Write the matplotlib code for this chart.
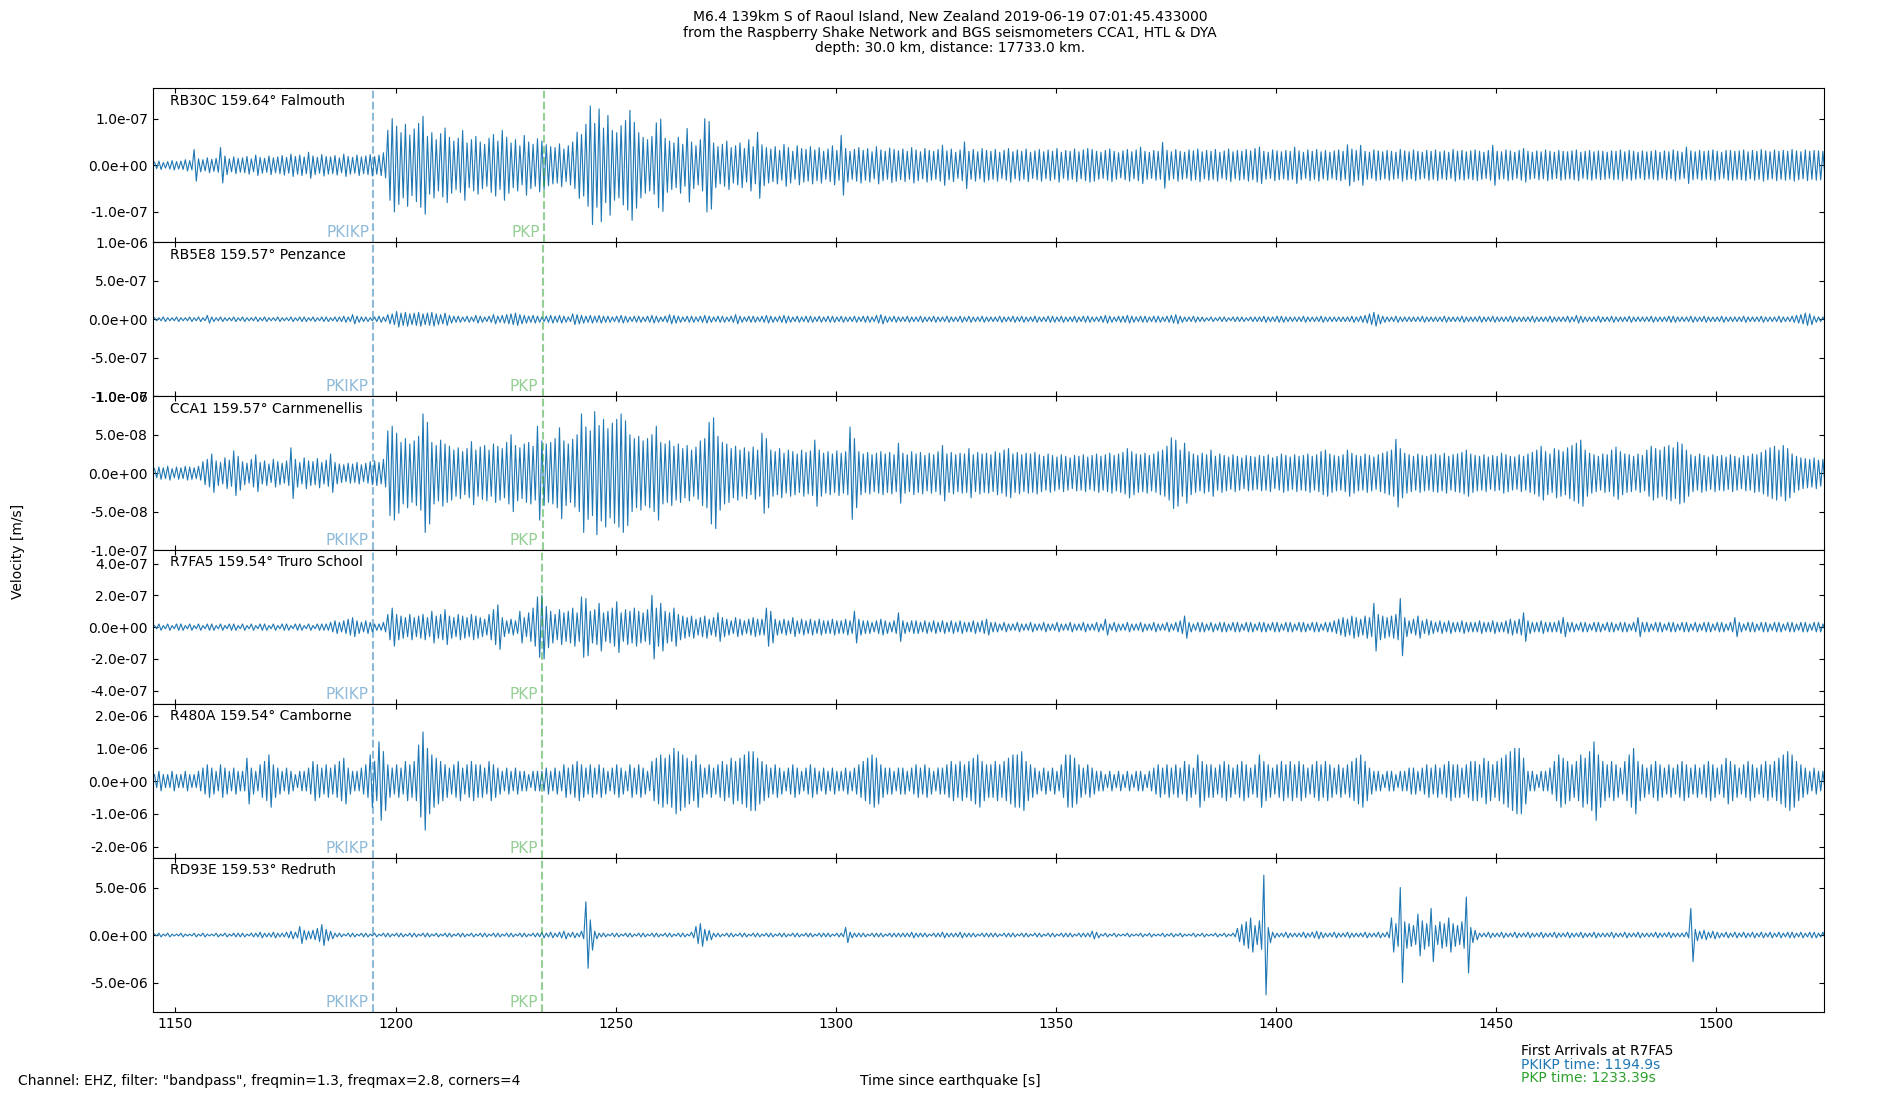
import numpy as np
import matplotlib
matplotlib.use('Agg')
import matplotlib.pyplot as plt
from matplotlib.ticker import FormatStrFormatter

# peak amplitude per second, seconds 1145..1524
t0 = 1145

rb30c = [  # nm/s
    7, 9, 6, 8, 10, 8, 9, 12, 10, 34,
    14, 12, 16, 13, 15, 38, 20, 14, 18, 15,
    16, 19, 14, 22, 17, 15, 20, 16, 18, 21,
    17, 24, 19, 22, 18, 28, 20, 17, 23, 19,
    18, 21, 16, 24, 19, 17, 22, 18, 20, 23,
    19, 22, 27, 75, 100, 84, 70, 88, 65, 78,
    90, 105, 62, 70, 55, 68, 80, 60, 52, 58,
    75, 48, 55, 62, 50, 45, 58, 66, 52, 75,
    60, 48, 55, 42, 64, 50, 45, 57, 52, 44,
    40, 38, 46, 35, 42, 50, 71, 66, 88, 127,
    90, 121, 80, 107, 75, 70, 85, 96, 118, 92,
    70, 60, 55, 62, 91, 99, 58, 52, 48, 60,
    45, 79, 50, 42, 55, 100, 94, 48, 40, 45,
    52, 38, 42, 48, 36, 55, 40, 71, 44, 38,
    35, 40, 32, 45, 38, 30, 42, 36, 34, 40,
    33, 38, 30, 35, 42, 32, 64, 36, 30, 34,
    38, 32, 36, 29, 40, 33, 30, 37, 34, 31,
    35, 30, 38, 33, 29, 36, 32, 30, 34, 43,
    31, 35, 28, 33, 50, 30, 34, 29, 36, 32,
    30, 34, 28, 32, 36, 29, 33, 30, 35, 28,
    31, 34, 29, 33, 30, 36, 28, 32, 30, 35,
    29, 33, 36, 34, 30, 28, 32, 35, 30, 27,
    31, 34, 29, 33, 39, 30, 28, 32, 30, 49,
    32, 29, 34, 30, 28, 33, 31, 35, 29, 32,
    30, 34, 28, 31, 35, 29, 32, 30, 34, 31,
    36, 39, 30, 28, 33, 31, 29, 32, 30, 39,
    31, 28, 33, 30, 34, 29, 32, 28, 31, 33,
    30, 44, 35, 32, 43, 30, 28, 33, 31, 29,
    32, 30, 28, 34, 31, 29, 33, 30, 28, 32,
    30, 33, 29, 31, 28, 34, 30, 32, 29, 31,
    33, 30, 28, 32, 43, 30, 29, 33, 31, 28,
    32, 36, 30, 28, 31, 29, 33, 30, 28, 32,
    30, 29, 31, 33, 28, 30, 32, 29, 31, 30,
    28, 31, 30, 33, 29, 32, 30, 28, 31, 29,
    30, 32, 28, 31, 29, 33, 30, 28, 39, 31,
    29, 32, 30, 31, 33, 30, 28, 32, 32, 30,
    31, 33, 29, 32, 30, 34, 31, 29, 33, 30,
    32, 30, 34, 31, 29, 33, 30, 32, 31, 30,
]

rb5e8 = [  # 1e-8 m/s
    2, 2, 3, 2, 2, 3, 2, 2, 3, 2,
    3, 2, 5, 3, 2, 3, 2, 2, 3, 2,
    3, 2, 2, 3, 2, 3, 2, 2, 3, 2,
    2, 3, 2, 3, 3, 2, 3, 2, 3, 3,
    2, 3, 3, 4, 3, 6, 4, 3, 3, 2,
    3, 4, 3, 6, 7, 10, 8, 9, 7, 8,
    9, 7, 8, 9, 7, 6, 8, 5, 4, 4,
    3, 4, 3, 5, 4, 3, 4, 6, 4, 5,
    6, 7, 8, 6, 5, 4, 5, 4, 3, 4,
    5, 4, 5, 4, 3, 7, 6, 5, 4, 5,
    4, 5, 4, 4, 3, 4, 5, 4, 3, 4,
    4, 3, 4, 5, 4, 3, 4, 6, 5, 4,
    3, 4, 4, 3, 4, 5, 4, 3, 4, 4,
    3, 4, 6, 4, 3, 4, 4, 3, 4, 5,
    4, 3, 4, 5, 4, 3, 4, 3, 4, 4,
    3, 4, 3, 4, 4, 3, 4, 3, 3, 4,
    3, 4, 4, 3, 5, 6, 4, 3, 4, 3,
    3, 4, 3, 3, 4, 3, 3, 4, 3, 3,
    4, 3, 3, 4, 3, 4, 3, 3, 4, 3,
    3, 3, 4, 3, 3, 4, 3, 4, 3, 3,
    4, 3, 3, 4, 4, 3, 4, 3, 3, 4,
    3, 4, 4, 3, 3, 4, 5, 4, 3, 4,
    4, 5, 4, 3, 4, 4, 3, 4, 4, 3,
    4, 5, 6, 4, 3, 3, 4, 3, 3, 2,
    3, 2, 3, 3, 2, 3, 3, 3, 2, 3,
    3, 3, 4, 3, 3, 4, 4, 3, 3, 3,
    3, 4, 3, 3, 3, 4, 3, 3, 3, 3,
    3, 3, 4, 3, 4, 5, 7, 9, 6, 4,
    3, 3, 4, 3, 3, 3, 3, 3, 4, 3,
    3, 3, 3, 4, 3, 3, 3, 4, 3, 3,
    3, 4, 3, 3, 4, 3, 3, 3, 4, 3,
    3, 3, 3, 4, 3, 3, 3, 4, 3, 3,
    3, 4, 3, 5, 4, 3, 3, 3, 4, 3,
    3, 4, 3, 3, 3, 4, 3, 3, 3, 3,
    4, 3, 3, 3, 4, 4, 3, 3, 3, 4,
    3, 3, 4, 3, 3, 3, 4, 3, 3, 3,
    3, 4, 3, 3, 3, 4, 3, 3, 3, 4,
    3, 3, 4, 5, 6, 8, 7, 4, 3, 3,
]

cca1 = [  # nm/s
    6, 8, 7, 9, 6, 8, 7, 9, 8, 7,
    9, 15, 18, 25, 16, 14, 20, 17, 29, 22,
    15, 13, 18, 24, 14, 16, 12, 18, 15, 13,
    16, 33, 18, 14, 20, 16, 15, 19, 14, 17,
    25, 14, 12, 11, 13, 12, 14, 11, 13, 15,
    16, 14, 18, 55, 61, 52, 40, 45, 38, 42,
    48, 77, 66, 40, 36, 43, 38, 35, 30, 33,
    28, 32, 41, 30, 34, 36, 30, 38, 35, 32,
    40, 50, 36, 33, 38, 40, 35, 61, 42, 38,
    40, 45, 59, 42, 38, 44, 50, 77, 60, 55,
    80, 62, 70, 58, 65, 70, 77, 68, 50, 45,
    48, 42, 45, 50, 61, 40, 38, 42, 35, 38,
    32, 36, 30, 34, 42, 45, 66, 72, 48, 40,
    38, 32, 35, 30, 33, 28, 34, 30, 52, 45,
    30, 28, 32, 26, 30, 28, 25, 30, 27, 29,
    43, 30, 26, 28, 25, 29, 26, 28, 60, 45,
    28, 25, 27, 24, 26, 28, 25, 27, 24, 39,
    26, 24, 28, 25, 27, 23, 26, 24, 28, 36,
    25, 27, 24, 26, 25, 32, 24, 27, 25, 26,
    24, 28, 26, 30, 32, 25, 27, 24, 26, 25,
    27, 24, 22, 25, 23, 21, 24, 22, 20, 23,
    22, 24, 21, 23, 25, 22, 24, 26, 23, 25,
    27, 32, 28, 25, 24, 26, 23, 25, 28, 30,
    35, 46, 43, 30, 39, 28, 25, 23, 26, 24,
    30, 22, 25, 23, 21, 24, 22, 20, 23, 22,
    21, 23, 22, 24, 20, 22, 25, 23, 21, 24,
    22, 23, 25, 22, 24, 28, 30, 25, 23, 22,
    24, 30, 26, 23, 22, 25, 23, 21, 24, 26,
    28, 30, 44, 32, 26, 24, 22, 25, 23, 22,
    24, 25, 23, 26, 22, 24, 25, 27, 30, 25,
    23, 22, 24, 21, 23, 22, 26, 24, 22, 21,
    24, 22, 25, 27, 30, 35, 28, 25, 32, 30,
    28, 33, 36, 39, 43, 30, 26, 24, 22, 25,
    24, 30, 34, 28, 25, 24, 22, 25, 23, 30,
    35, 32, 30, 34, 36, 33, 40, 38, 30, 24,
    22, 25, 23, 21, 24, 22, 23, 21, 24, 22,
    20, 23, 22, 25, 24, 27, 30, 33, 35, 30,
    36, 32, 25, 22, 20, 19, 18, 20, 17, 18,
]

r7fa5 = [  # 1e-8 m/s
    1, 2, 1, 2, 1, 2, 2, 1, 2, 1,
    2, 1, 2, 2, 1, 2, 1, 2, 2, 1,
    2, 1, 2, 1, 2, 2, 1, 2, 1, 2,
    2, 1, 2, 2, 1, 2, 1, 2, 2, 2,
    3, 4, 3, 4, 5, 6, 4, 3, 4, 3,
    2, 2, 3, 8, 12, 8, 7, 6, 8, 6,
    7, 8, 6, 10, 7, 8, 11, 7, 6, 8,
    7, 6, 8, 7, 6, 5, 8, 11, 14, 6,
    4, 5, 4, 10, 6, 9, 12, 19, 20, 13,
    10, 8, 11, 9, 10, 12, 9, 19, 18, 10,
    11, 15, 9, 10, 12, 16, 9, 11, 10, 12,
    10, 9, 11, 20, 12, 15, 10, 9, 12, 8,
    7, 6, 7, 5, 6, 7, 5, 6, 9, 6,
    5, 4, 6, 5, 4, 5, 6, 5, 5, 12,
    10, 5, 4, 5, 4, 6, 4, 5, 4, 5,
    4, 5, 4, 4, 5, 4, 4, 5, 4, 10,
    5, 4, 4, 3, 4, 5, 4, 3, 4, 9,
    4, 3, 4, 4, 3, 4, 3, 4, 3, 4,
    3, 4, 3, 4, 3, 3, 4, 3, 4, 5,
    3, 3, 2, 3, 2, 2, 3, 2, 2, 3,
    2, 2, 3, 2, 2, 3, 2, 2, 3, 2,
    2, 3, 2, 2, 3, 2, 5, 2, 3, 2,
    2, 3, 2, 2, 3, 2, 2, 3, 2, 2,
    3, 2, 3, 4, 7, 3, 2, 3, 3, 2,
    3, 2, 3, 3, 2, 3, 3, 2, 3, 3,
    2, 3, 3, 2, 3, 3, 2, 3, 3, 2,
    3, 3, 2, 3, 3, 2, 3, 3, 4, 5,
    6, 5, 7, 6, 5, 7, 6, 15, 8, 7,
    6, 7, 8, 18, 6, 4, 5, 7, 4, 5,
    4, 3, 4, 3, 4, 3, 3, 4, 3, 3,
    3, 4, 3, 3, 4, 3, 3, 4, 5, 4,
    5, 9, 4, 3, 3, 4, 3, 3, 3, 4,
    6, 3, 3, 2, 3, 3, 2, 3, 3, 2,
    3, 3, 2, 3, 3, 2, 3, 6, 3, 3,
    2, 3, 3, 2, 3, 3, 2, 3, 3, 2,
    3, 2, 3, 3, 2, 3, 3, 2, 3, 6,
    3, 2, 3, 3, 2, 3, 3, 2, 3, 3,
    2, 3, 3, 2, 3, 3, 2, 3, 3, 2,
]

r480a = [  # 1e-7 m/s
    2, 3, 2, 2, 3, 2, 2, 3, 2, 2,
    3, 4, 5, 4, 3, 5, 4, 3, 4, 3,
    3, 7, 4, 3, 5, 6, 8, 5, 4, 3,
    4, 3, 2, 3, 3, 4, 6, 5, 4, 5,
    4, 5, 6, 7, 4, 3, 3, 4, 5, 8,
    6, 12, 9, 5, 4, 5, 4, 6, 5, 6,
    11, 15, 10, 8, 7, 6, 5, 4, 5, 6,
    4, 5, 6, 5, 5, 4, 6, 5, 4, 3,
    4, 3, 4, 3, 3, 2, 3, 3, 3, 4,
    3, 4, 3, 5, 4, 5, 6, 5, 4, 5,
    4, 5, 4, 3, 4, 5, 4, 3, 5, 4,
    5, 4, 3, 6, 7, 8, 7, 8, 10, 9,
    8, 7, 6, 8, 5, 4, 5, 4, 5, 6,
    5, 7, 6, 7, 8, 9, 9, 7, 6, 5,
    4, 5, 4, 3, 4, 5, 4, 3, 4, 5,
    4, 3, 4, 3, 4, 3, 3, 4, 3, 4,
    5, 6, 7, 8, 7, 5, 4, 4, 3, 4,
    4, 3, 4, 5, 4, 5, 4, 3, 4, 4,
    5, 6, 5, 6, 5, 6, 7, 8, 6, 5,
    5, 6, 5, 6, 7, 8, 8, 9, 6, 5,
    4, 3, 4, 3, 4, 3, 5, 8, 8, 7,
    5, 4, 5, 4, 3, 3, 2, 3, 2, 3,
    2, 3, 2, 3, 3, 2, 3, 4, 5, 4,
    5, 4, 5, 4, 6, 5, 4, 8, 6, 5,
    5, 4, 5, 6, 5, 4, 5, 6, 5, 4,
    5, 8, 6, 5, 4, 5, 6, 5, 6, 5,
    6, 5, 4, 5, 6, 5, 6, 5, 4, 5,
    4, 5, 6, 7, 8, 6, 4, 3, 3, 2,
    3, 3, 2, 3, 3, 4, 4, 3, 4, 5,
    4, 5, 4, 5, 6, 5, 5, 4, 5, 6,
    6, 5, 7, 6, 5, 6, 7, 8, 9, 10,
    10, 7, 3, 3, 2, 3, 3, 4, 6, 8,
    7, 6, 5, 6, 8, 7, 9, 12, 8, 6,
    5, 6, 5, 4, 6, 8, 10, 6, 5, 4,
    5, 6, 5, 4, 5, 4, 5, 6, 5, 4,
    5, 4, 5, 6, 5, 4, 5, 7, 6, 5,
    4, 5, 6, 5, 4, 5, 6, 5, 6, 7,
    8, 9, 8, 6, 5, 4, 3, 4, 3, 3,
]

rd93e = [  # 1e-7 m/s
    1, 2, 1, 2, 1, 1, 2, 1, 1, 2,
    1, 2, 1, 1, 2, 1, 2, 1, 2, 2,
    2, 1, 2, 2, 3, 2, 2, 3, 2, 2,
    3, 4, 3, 9, 5, 4, 5, 7, 11, 6,
    4, 2, 2, 1, 2, 2, 1, 2, 2, 1,
    2, 1, 2, 2, 1, 2, 2, 1, 2, 2,
    1, 2, 2, 1, 2, 1, 2, 2, 1, 2,
    2, 1, 2, 1, 2, 2, 1, 2, 2, 1,
    2, 2, 1, 2, 2, 1, 2, 2, 3, 2,
    3, 2, 3, 4, 2, 3, 2, 4, 35, 16,
    4, 2, 2, 1, 2, 2, 1, 2, 2, 1,
    2, 2, 1, 2, 2, 1, 2, 2, 1, 2,
    2, 1, 3, 9, 12, 6, 5, 2, 2, 1,
    2, 2, 1, 2, 2, 1, 2, 2, 1, 2,
    2, 1, 2, 2, 1, 2, 2, 1, 2, 2,
    1, 2, 2, 2, 1, 2, 2, 8, 3, 2,
    2, 2, 1, 2, 2, 2, 1, 2, 2, 2,
    2, 2, 3, 2, 2, 2, 1, 2, 2, 3,
    2, 2, 2, 3, 2, 2, 2, 1, 2, 2,
    2, 2, 1, 2, 2, 2, 1, 2, 2, 1,
    2, 2, 1, 2, 2, 1, 2, 2, 2, 1,
    2, 2, 2, 4, 3, 1, 2, 1, 2, 1,
    1, 2, 1, 1, 2, 1, 2, 1, 1, 2,
    1, 2, 1, 2, 1, 1, 2, 1, 2, 1,
    1, 2, 1, 2, 1, 2, 7, 11, 14, 18,
    10, 15, 63, 8, 3, 2, 2, 3, 2, 2,
    2, 3, 2, 3, 4, 3, 2, 2, 3, 2,
    2, 3, 2, 2, 2, 3, 2, 2, 3, 2,
    3, 18, 12, 50, 14, 12, 10, 22, 15, 12,
    28, 10, 14, 12, 18, 12, 10, 14, 40, 8,
    5, 2, 2, 3, 2, 2, 3, 2, 2, 3,
    2, 2, 3, 2, 2, 3, 2, 2, 3, 2,
    2, 3, 2, 2, 3, 2, 2, 3, 2, 2,
    2, 3, 2, 2, 3, 2, 2, 3, 2, 2,
    2, 3, 2, 2, 3, 2, 2, 2, 3, 28,
    6, 4, 5, 3, 4, 3, 2, 3, 2, 3,
    2, 3, 2, 3, 2, 3, 2, 3, 2, 3,
    2, 3, 3, 2, 3, 2, 3, 3, 2, 3,
]

traces = [rb30c, rb5e8, cca1, r7fa5, r480a, rd93e]
units = [1e-9, 1e-8, 1e-9, 1e-8, 1e-7, 1e-7]
stations = ['RB30C', 'RB5E8', 'CCA1', 'R7FA5', 'R480A', 'RD93E']
dists = [159.64, 159.57, 159.57, 159.54, 159.54, 159.53]
places = ['Falmouth', 'Penzance', 'Carnmenellis', 'Truro School', 'Camborne', 'Redruth']
pkikp = [1195.0, 1194.9, 1194.9, 1194.9, 1194.9, 1194.9]
pkp = [1233.8, 1233.4, 1233.4, 1233.39, 1233.39, 1233.37]
ylims = [1.65e-7, 1.0e-6, 1.0e-7, 4.84e-7, 2.35e-6, 8.1e-6]
yticks = [[-1e-7, 0, 1e-7],
          [-1e-6, -5e-7, 0, 5e-7, 1e-6],
          [-1e-7, -5e-8, 0, 5e-8, 1e-7],
          [-4e-7, -2e-7, 0, 2e-7, 4e-7],
          [-2e-6, -1e-6, 0, 1e-6, 2e-6],
          [-5e-6, 0, 5e-6]]

title = ('M6.4 139km S of Raoul Island, New Zealand 2019-06-19 07:01:45.433000\n'
         'from the Raspberry Shake Network and BGS seismometers CCA1, HTL & DYA\n'
         'depth: 30.0 km, distance: 17733.0 km.')
filt = 'Channel: EHZ, filter: "bandpass", freqmin=1.3, freqmax=2.8, corners=4'

fig, axs = plt.subplots(6, 1, figsize=(19, 11), dpi=100, sharex=True)
fig.subplots_adjust(left=0.0805, right=0.96, top=0.9197, bottom=0.08, hspace=0)

for i, ax in enumerate(axs):
    # one up/down swing per second at the read peak amplitude
    a = np.array(traces[i]) * units[i]
    t = t0 + np.arange(len(a))
    x = np.column_stack([t + 0.25, t + 0.75]).ravel()
    y = np.column_stack([a, -a]).ravel()
    ax.plot(x, y, color='C0', lw=0.8)
    ax.axvline(pkikp[i], color='C0', ls='--', lw=1.5, alpha=0.5)
    ax.axvline(pkp[i], color='C2', ls='--', lw=1.5, alpha=0.5)
    ax.set_ylim(-ylims[i], ylims[i])
    ax.set_yticks(yticks[i])
    ax.yaxis.set_major_formatter(FormatStrFormatter('%.1e'))
    ax.tick_params(direction='in', top=True, right=True)
    ax.text(0.01, 0.92, '%s %.2f° %s' % (stations[i], dists[i], places[i]),
            transform=ax.transAxes, va='center', fontsize=10)
    ax.text(pkikp[i] - 1.0, -ylims[i] * 0.97, 'PKIKP', color='C0', alpha=0.5,
            ha='right', va='bottom', fontsize=11)
    ax.text(pkp[i] - 1.0, -ylims[i] * 0.97, 'PKP', color='C2', alpha=0.5,
            ha='right', va='bottom', fontsize=11)

axs[-1].set_xlim(1144.9, 1524.5)

fig.text(0.5, 0.991, title, ha='center', va='top', fontsize=10, linespacing=1.15)
fig.text(0.0095, 0.499, 'Velocity [m/s]', rotation=90, ha='center', va='center', fontsize=10)
fig.text(0.0095, 0.0173, filt, ha='left', va='center', fontsize=10)
fig.text(0.5, 0.0173, 'Time since earthquake [s]', ha='center', va='center', fontsize=10)
fig.text(0.8005, 0.0445, 'First Arrivals at R7FA5', ha='left', va='center', fontsize=10)
fig.text(0.8005, 0.0318, 'PKIKP time: %.1fs' % pkikp[3], color='C0', ha='left', va='center', fontsize=10)
fig.text(0.8005, 0.0203, 'PKP time: %.2fs' % pkp[3], color='C2', ha='left', va='center', fontsize=10)

fig.savefig('out.png', dpi=100)
